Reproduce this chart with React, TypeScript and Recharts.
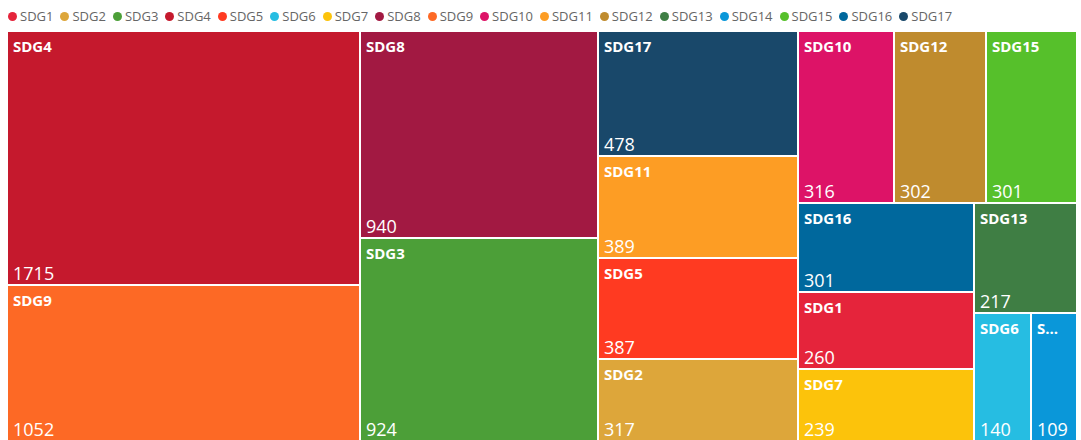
import { Treemap } from 'recharts'

// SDG counts, legend order
const sdgNames = [
  'SDG1', 'SDG2', 'SDG3', 'SDG4', 'SDG5', 'SDG6', 'SDG7', 'SDG8', 'SDG9',
  'SDG10', 'SDG11', 'SDG12', 'SDG13', 'SDG14', 'SDG15', 'SDG16', 'SDG17',
]
const sdgCounts = [260, 317, 924, 1715, 387, 140, 239, 940, 1052, 316, 389, 302, 217, 109, 301, 301, 478]
const sdgColors = [
  '#E5243B', '#DDA63A', '#4C9F38', '#C5192D', '#FF3A21', '#26BDE2', '#FCC30B', '#A21942', '#FD6925',
  '#DD1367', '#FD9D24', '#BF8B2E', '#3F7E44', '#0A97D9', '#56C02B', '#00689D', '#19486A',
]

const colorOf: Record<string, string> = {}
sdgNames.forEach((n, i) => {
  colorOf[n] = sdgColors[i]
})

// treemap lays out largest first (stable sort keeps SDG15 before SDG16)
const treeData = sdgNames
  .map((name, i) => ({ name, size: sdgCounts[i] }))
  .sort((a, b) => b.size - a.size)

const FONT = '"Open Sans", "Noto Sans", sans-serif'

let measureCtx: CanvasRenderingContext2D | null = null
function textWidth(s: string, font: string) {
  if (!measureCtx) measureCtx = document.createElement('canvas').getContext('2d')
  if (!measureCtx) return s.length * 9
  measureCtx.font = font
  return measureCtx.measureText(s).width
}

function fitLabel(s: string, maxW: number, font: string) {
  if (textWidth(s, font) <= maxW) return s
  for (let n = s.length - 1; n > 0; n--) {
    const t = s.slice(0, n) + '...'
    if (textWidth(t, font) <= maxW) return t
  }
  return ''
}

function CellContent(props: any) {
  const { x, y, width, height, depth, name, value } = props
  if (depth !== 1) return <g />
  const nameFont = `700 15px ${FONT}`
  const label = fitLabel(String(name), width - 14, nameFont)
  return (
    <g>
      <rect x={x} y={y} width={width} height={height} fill={colorOf[name]} stroke="#fff" strokeWidth={2} />
      <text x={x + 6} y={y + 21} fill="#fff" stroke="none" fontFamily={FONT} fontSize={15} fontWeight={700}>
        {label}
      </text>
      <text x={x + 6} y={y + height - 5} fill="#fff" stroke="none" fontFamily={FONT} fontSize={18}>
        {value}
      </text>
    </g>
  )
}

function Legend() {
  return (
    <div
      style={{
        position: 'absolute',
        left: 8,
        top: 7,
        display: 'flex',
        alignItems: 'center',
        fontFamily: FONT,
        fontSize: 13,
        color: '#666',
        lineHeight: '18px',
      }}
    >
      {sdgNames.map((n, i) => (
        <div key={n} style={{ display: 'flex', alignItems: 'center', marginRight: 7 }}>
          <span
            style={{
              width: 9,
              height: 9,
              borderRadius: '50%',
              background: sdgColors[i],
              marginRight: 3,
              display: 'inline-block',
            }}
          />
          <span>{n}</span>
        </div>
      ))}
    </div>
  )
}

export default function App() {
  return (
    <div
      style={{
        position: 'absolute',
        left: 0,
        top: 0,
        width: 1081,
        height: 440,
        background: '#fff',
        overflow: 'hidden',
      }}
    >
      <Legend />
      <div style={{ position: 'absolute', left: 7, top: 31 }}>
        <Treemap
          width={1070}
          height={410}
          data={treeData}
          dataKey="size"
          nameKey="name"
          stroke="#fff"
          isAnimationActive={false}
          content={<CellContent />}
        />
      </div>
    </div>
  )
}
